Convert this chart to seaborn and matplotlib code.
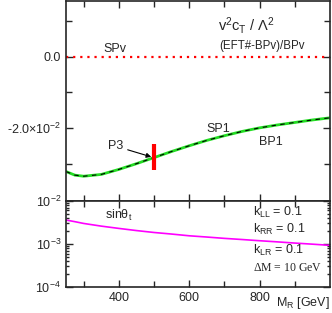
import numpy as np
import pandas as pd
import seaborn as sns
import matplotlib.pyplot as plt
from matplotlib.ticker import FixedLocator, MultipleLocator, LogLocator, NullFormatter, FixedFormatter

# data
mass = [250, 275, 300, 350, 400, 450, 500, 550, 600, 650, 700, 750, 800, 850, 900, 950, 1000]
ct_ratio = [-0.0321, -0.0331, -0.0334, -0.0329, -0.0315, -0.0299, -0.0282, -0.0265, -0.0249,
            -0.0234, -0.0221, -0.0209, -0.0199, -0.0191, -0.0184, -0.0177, -0.0171]
spv_ratio = [0.0] * len(mass)
sin_theta = [3.6e-3, 3.3e-3, 3.0e-3, 2.6e-3, 2.3e-3, 2.05e-3, 1.85e-3, 1.7e-3, 1.55e-3,
             1.45e-3, 1.35e-3, 1.27e-3, 1.19e-3, 1.12e-3, 1.05e-3, 0.99e-3, 0.93e-3]
p3_mass = 500
p3_range = [-0.0317, -0.0243]

df = pd.DataFrame({"M": mass, "ct": ct_ratio, "spv": spv_ratio, "sin": sin_theta})

sns.set_style("ticks")
plt.rcParams['font.family'] = ['Liberation Sans', 'DejaVu Sans']
plt.rcParams['mathtext.default'] = 'regular'
plt.rcParams['font.size'] = 8.5

fig = plt.figure(figsize=(3.32, 3.13), dpi=100)
ax1 = fig.add_axes([0.199, 0.358, 0.795, 0.640])
ax2 = fig.add_axes([0.199, 0.083, 0.795, 0.275], sharex=ax1)

# top panel
sns.lineplot(data=df, x="M", y="spv", ax=ax1, color="red", lw=1.6, ls=(0, (1, 2.2)))
sns.lineplot(data=df, x="M", y="ct", ax=ax1, color="#22dd22", lw=2.0)
sns.lineplot(data=df, x="M", y="ct", ax=ax1, color="black", lw=0.8, ls=(0, (4, 4)))
ax1.vlines(p3_mass, p3_range[0], p3_range[1], color="red", lw=3)
ax1.annotate("P3", xy=(492, -0.0280), xytext=(412, -0.0250), fontsize=9,
             ha="right", va="center",
             arrowprops=dict(arrowstyle="-|>", color="black", lw=0.8, mutation_scale=7,
                             shrinkA=1, shrinkB=0))

ax1.set_xlim(250, 1000)
ax1.set_ylim(-0.0403, 0.0156)
ax1.yaxis.set_major_locator(FixedLocator([0.0, -0.02]))
ax1.yaxis.set_major_formatter(FixedFormatter(["0.0", r"-2.0$\times$10$^{-2}$"]))
ax1.yaxis.set_minor_locator(FixedLocator([0.01, -0.01, -0.03]))
ax1.xaxis.set_major_locator(MultipleLocator(100))
ax1.tick_params(axis="x", labelbottom=False)
ax1.set_xlabel("")
ax1.set_ylabel("")

ax1.text(355, 0.0022, "SPv", fontsize=9, va="center")
ax1.text(682, 0.0086, r"v$^2$c$_T$ / $\Lambda^2$", fontsize=10.5, va="center")
ax1.text(684, 0.0028, "(EFT#-BPv)/BPv", fontsize=8.3, va="center")
ax1.text(650, -0.0203, "SP1", fontsize=9, va="center")
ax1.text(798, -0.0239, "BP1", fontsize=9, va="center")

# bottom panel
sns.lineplot(data=df, x="M", y="sin", ax=ax2, color="magenta", lw=1.2)
ax2.set_yscale("log")
ax2.set_ylim(1e-4, 1e-2)
ax2.yaxis.set_major_locator(LogLocator(base=10, numticks=5))
ax2.yaxis.set_minor_locator(LogLocator(base=10, subs=np.arange(2, 10), numticks=10))
ax2.yaxis.set_minor_formatter(NullFormatter())
ax2.xaxis.set_major_locator(FixedLocator([400, 600, 800]))
ax2.xaxis.set_minor_locator(FixedLocator([300, 500, 700, 900]))
ax2.set_xlabel("")
ax2.set_ylabel("")

ax2.text(361, 4.7e-3, r"sin$\theta_t$", fontsize=9, va="center")
ax2.text(781, 5.5e-3, r"k$_{LL}$ = 0.1", fontsize=9, va="center")
ax2.text(781, 2.2e-3, r"k$_{RR}$ = 0.1", fontsize=9, va="center")
ax2.text(781, 7.1e-4, r"k$_{LR}$ = 0.1", fontsize=9, va="center")
ax2.text(781, 2.7e-4, r"$\Delta$M = 10 GeV", fontsize=8.5, va="center",
         family=['Liberation Serif', 'DejaVu Serif'])
fig.text(0.994, 0.005, r"M$_R$ [GeV]", ha="right", va="bottom", fontsize=9)

for ax in (ax1, ax2):
    for s in ax.spines.values():
        s.set_visible(True)
        s.set_linewidth(1.2)
    ax.tick_params(which="both", direction="in", top=True, right=True, width=1.0, labelsize=9)
    ax.tick_params(which="major", length=5)
    ax.tick_params(which="minor", length=4)
ax2.tick_params(axis="y", which="minor", length=2.5)
ax2.tick_params(axis="x", which="minor", length=4)

fig.savefig("out.png", dpi=100)
